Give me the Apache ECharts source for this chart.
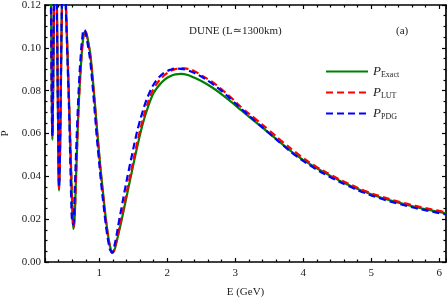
<!DOCTYPE html>
<html>
<head>
<meta charset="utf-8">
<script src="https://cdn.jsdelivr.net/npm/echarts@6/dist/echarts.min.js"></script>
<style>html,body{margin:0;padding:0;background:#fff}#c{width:447px;height:300px}</style>
</head>
<body>
<div id="c"></div>
<script>
// Energy grid (GeV)
const energy = [0.27, 0.289, 0.300, 0.308, 0.318, 0.333, 0.35, 0.365, 0.377, 0.392, 0.407, 0.422, 0.444, 0.46, 0.478, 0.495, 0.51, 0.535, 0.555, 0.585, 0.60, 0.618, 0.635, 0.655, 0.677, 0.70, 0.727, 0.75, 0.77, 0.79, 0.81, 0.835, 0.865, 0.89, 0.913, 0.94, 0.96, 0.985, 1.01, 1.035, 1.06, 1.085, 1.11, 1.135, 1.16, 1.19, 1.22, 1.25, 1.283, 1.33, 1.38, 1.43, 1.48, 1.53, 1.58, 1.63, 1.68, 1.75, 1.80, 1.87, 1.96, 2.05, 2.12, 2.2, 2.3, 2.4, 2.5, 2.65, 2.8, 2.95, 3.1, 3.3, 3.5, 3.7, 3.9, 4.15, 4.4, 4.65, 4.9, 5.15, 5.4, 5.65, 5.9, 6.1];

const pExact = [0.16, 0.12, 0.078, 0.057, 0.075, 0.12, 0.15, 0.14, 0.115, 0.068, 0.0333, 0.052, 0.108, 0.132, 0.14, 0.133, 0.118, 0.094, 0.074, 0.042, 0.027, 0.0154, 0.02, 0.038, 0.058, 0.076, 0.091, 0.101, 0.106, 0.1075, 0.1065, 0.103, 0.0975, 0.090, 0.082, 0.072, 0.064, 0.055, 0.046, 0.038, 0.0305, 0.023, 0.0165, 0.011, 0.007, 0.0043, 0.0055, 0.009, 0.0134, 0.020, 0.0274, 0.035, 0.0425, 0.050, 0.057, 0.0635, 0.069, 0.0755, 0.079, 0.0822, 0.0852, 0.0869, 0.0876, 0.0878, 0.0873, 0.086, 0.0845, 0.0817, 0.0783, 0.0745, 0.0705, 0.0653, 0.0601, 0.0548, 0.0498, 0.0447, 0.0402, 0.0362, 0.0328, 0.0300, 0.0277, 0.0257, 0.0240, 0.0227];

const pLUT = [0.16, 0.12, 0.079, 0.058, 0.076, 0.12, 0.15, 0.14, 0.115, 0.069, 0.0343, 0.053, 0.108, 0.132, 0.14, 0.133, 0.118, 0.094, 0.074, 0.042, 0.028, 0.0164, 0.021, 0.038, 0.058, 0.076, 0.091, 0.1015, 0.1065, 0.108, 0.1065, 0.1025, 0.0965, 0.089, 0.081, 0.071, 0.063, 0.054, 0.045, 0.037, 0.0295, 0.022, 0.016, 0.0105, 0.0068, 0.0043, 0.0058, 0.0095, 0.0142, 0.0212, 0.029, 0.037, 0.0445, 0.052, 0.059, 0.0655, 0.071, 0.0775, 0.081, 0.0843, 0.0873, 0.0893, 0.0901, 0.0905, 0.0902, 0.0891, 0.0872, 0.0843, 0.0806, 0.0764, 0.0719, 0.0667, 0.0614, 0.056, 0.0509, 0.0453, 0.0408, 0.0368, 0.0333, 0.0305, 0.0282, 0.0262, 0.0245, 0.0232];

const pPDG = [0.16, 0.115, 0.075, 0.059, 0.08, 0.125, 0.15, 0.14, 0.11, 0.064, 0.035, 0.056, 0.112, 0.133, 0.14, 0.131, 0.115, 0.09, 0.07, 0.03, 0.0185, 0.0175, 0.031, 0.049, 0.067, 0.083, 0.097, 0.105, 0.1085, 0.108, 0.105, 0.1005, 0.094, 0.086, 0.0775, 0.067, 0.059, 0.0505, 0.042, 0.034, 0.027, 0.020, 0.0138, 0.009, 0.0055, 0.0045, 0.0075, 0.012, 0.018, 0.026, 0.0345, 0.0425, 0.050, 0.0575, 0.064, 0.0695, 0.0745, 0.0800, 0.083, 0.0860, 0.0885, 0.0898, 0.0903, 0.0902, 0.0895, 0.0882, 0.0866, 0.0835, 0.0798, 0.0756, 0.0712, 0.0656, 0.0601, 0.0546, 0.0494, 0.0441, 0.0396, 0.0357, 0.0323, 0.0295, 0.0272, 0.0252, 0.0235, 0.0222];

const seriesNames = ['P_Exact', 'P_LUT', 'P_PDG'];
const subscripts = ['Exact', 'LUT', 'PDG'];
const xTickLabels = ['1', '2', '3', '4', '5', '6'];

function pairs(ys) { return energy.map((e, i) => [e, ys[i]]); }

const serif = '"Liberation Serif", "DejaVu Serif", serif';
const chart = echarts.init(document.getElementById('c'), null, {renderer: 'canvas'});

const axisCommon = {
  axisLine: {show: true, onZero: false, lineStyle: {color: '#000', width: 1.7}},
  splitLine: {show: false},
  minorSplitLine: {show: false},
};

chart.setOption({
  animation: false,
  backgroundColor: '#fff',
  grid: {left: 45, right: 1, top: 5, bottom: 38, containLabel: false, outerBoundsMode: 'none'},
  xAxis: [
    Object.assign({
      type: 'value', position: 'bottom', min: 0.2, max: 6.1, splitNumber: 6,
      axisTick: {show: true, inside: true, length: 4, lineStyle: {color: '#000', width: 1.2}},
      minorTick: {show: true, splitNumber: 5, length: 2.5, lineStyle: {color: '#000', width: 1.2}},
      axisLabel: {
        show: true, margin: 6, color: '#222', fontSize: 11, fontFamily: serif,
        showMinLabel: false, showMaxLabel: false,
        formatter: v => { const s = String(Math.round(v)); return (Math.abs(v - Math.round(v)) < 1e-6 && xTickLabels.includes(s)) ? s : ''; }
      },
      name: 'E (GeV)', nameLocation: 'middle', nameGap: 25,
      nameTextStyle: {color: '#222', fontSize: 11, fontFamily: serif}
    }, axisCommon),
    Object.assign({
      type: 'value', position: 'top', min: 0.2, max: 6.1, splitNumber: 6,
      axisTick: {show: true, inside: true, length: 4, lineStyle: {color: '#000', width: 1.2}},
      minorTick: {show: true, splitNumber: 5, length: 2.5, lineStyle: {color: '#000', width: 1.2}},
      axisLabel: {show: false}
    }, axisCommon)
  ],
  yAxis: [
    Object.assign({
      type: 'value', position: 'left', min: 0, max: 0.12, interval: 0.02,
      axisTick: {show: true, inside: true, length: 4, lineStyle: {color: '#000', width: 1.2}},
      minorTick: {show: true, splitNumber: 4, length: 2.5, lineStyle: {color: '#000', width: 1.2}},
      axisLabel: {show: true, margin: 4, color: '#222', fontSize: 11, fontFamily: serif, formatter: v => v.toFixed(2)},
      name: 'P', nameLocation: 'middle', nameGap: 29, nameRotate: 90,
      nameTextStyle: {color: '#222', fontSize: 11, fontFamily: serif}
    }, axisCommon),
    Object.assign({
      type: 'value', position: 'right', min: 0, max: 0.12, interval: 0.02,
      axisTick: {show: true, inside: true, length: 4, lineStyle: {color: '#000', width: 1.2}},
      minorTick: {show: true, splitNumber: 4, length: 2.5, lineStyle: {color: '#000', width: 1.2}},
      axisLabel: {show: false}
    }, axisCommon)
  ],
  legend: {
    show: true, orient: 'vertical', left: 320, top: 60,
    itemWidth: 42, itemHeight: 14, itemGap: 7,
    data: seriesNames,
    itemStyle: {opacity: 0, borderWidth: 0},
    formatter: name => '{p|P}{s|' + subscripts[seriesNames.indexOf(name)] + '}',
    textStyle: {
      color: '#222',
      rich: {
        p: {fontFamily: serif, fontStyle: 'italic', fontSize: 13, color: '#222'},
        s: {fontFamily: serif, fontSize: 8, color: '#222', padding: [7, 0, 0, 0]}
      }
    }
  },
  graphic: [
    {type: 'text', left: 189, top: 26, style: {text: 'DUNE (L\u22431300km)', font: '11px ' + serif, fill: '#222'}},
    {type: 'text', left: 396, top: 26, style: {text: '(a)', font: '11px ' + serif, fill: '#222'}}
  ],
  series: [
    {name: seriesNames[0], type: 'line', data: pairs(pExact), showSymbol: false, symbol: 'none', smooth: 0.4, clip: true,
     lineStyle: {color: '#008000', width: 2.2, type: 'solid'}, itemStyle: {color: '#008000'}, z: 2},
    {name: seriesNames[1], type: 'line', data: pairs(pLUT), showSymbol: false, symbol: 'none', smooth: 0.4, clip: true,
     lineStyle: {color: '#ff0000', width: 2.2, type: [7, 4]}, itemStyle: {color: '#ff0000'}, z: 3},
    {name: seriesNames[2], type: 'line', data: pairs(pPDG), showSymbol: false, symbol: 'none', smooth: 0.4, clip: true,
     lineStyle: {color: '#0000ff', width: 2.2, type: [7, 4]}, itemStyle: {color: '#0000ff'}, z: 4}
  ]
});
</script>
</body>
</html>
